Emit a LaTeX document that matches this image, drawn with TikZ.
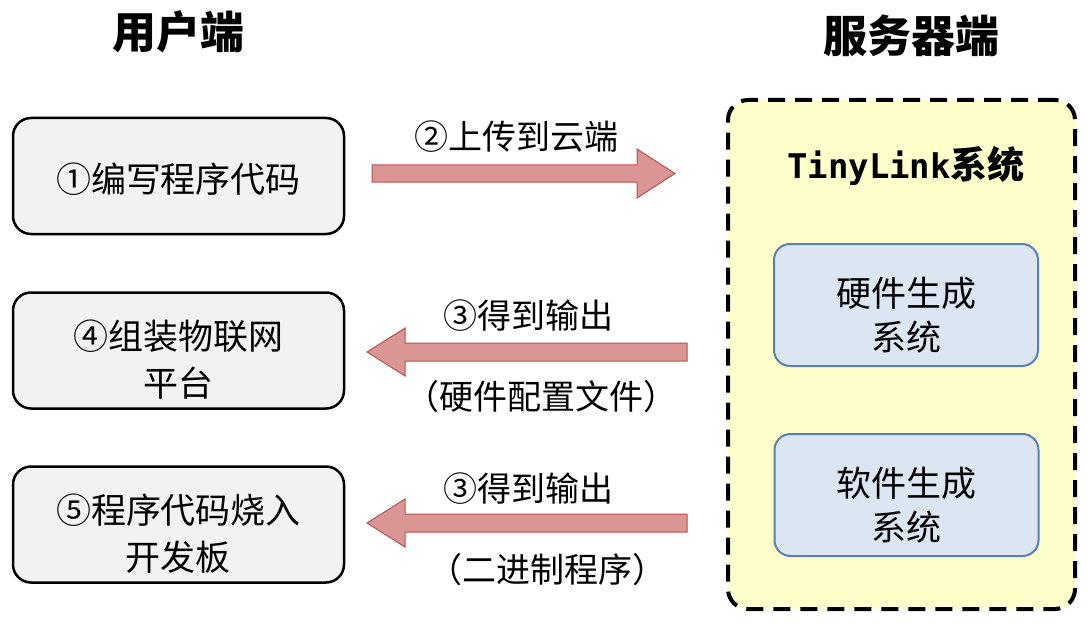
\documentclass[tikz,border=0pt]{standalone}
\usepackage{fontspec}
\setmainfont{Noto Sans CJK SC}
\newfontfamily\monof{DejaVu Sans Mono}
\definecolor{boxgray}{HTML}{F2F2F2}
\definecolor{arrowfill}{HTML}{D99694}
\definecolor{arrowline}{HTML}{B9504D}
\definecolor{srvfill}{HTML}{FFFFCC}
\definecolor{subfill}{HTML}{DCE6F2}
\definecolor{subline}{HTML}{5B7FB0}
\begin{document}
\begin{tikzpicture}[x=1pt,y=-1pt,
  title/.style={font=\fontsize{44}{50}\selectfont\bfseries},
  userbox/.style={draw=black, line width=2.5pt, fill=boxgray, rounded corners=18pt,
    minimum width=331pt, minimum height=116pt},
  usertxt/.style={align=center, inner sep=0pt, font=\fontsize{35}{47}\selectfont},
  srvbox/.style={draw=black, line width=4pt, dash pattern=on 17pt off 10pt,
    fill=srvfill, rounded corners=20pt, minimum width=347pt, minimum height=509pt},
  subbox/.style={draw=subline, line width=2pt, fill=subfill, rounded corners=16pt,
    minimum width=264pt, minimum height=122pt},
  subtxt/.style={align=center, inner sep=0pt, font=\fontsize{35}{44}\selectfont},
  lbl/.style={font=\fontsize{34}{40}\selectfont, inner sep=0pt},
  blockarrow/.style={draw=arrowline, line width=1pt, fill=arrowfill, line join=miter}
]
\useasboundingbox (0,0) rectangle (1087,623);

% titles
\node[title] (t1) at (178,32) {用户端};
\node[title] (t2) at (911,36) {服务器端};

% user side boxes
\node[userbox] (u1) at (178.5,176) {};
\node[userbox] (u2) at (178.5,350.5) {};
\node[userbox] (u3) at (178.5,524.5) {};
\node[usertxt] (u1t) at ([yshift=-3pt]u1.center) {①编写程序代码};
\node[usertxt] (u2t) at ([yshift=-9pt]u2.center) {④组装物联网\\平台};
\node[usertxt] (u3t) at ([yshift=-9pt]u3.center) {⑤程序代码烧入\\开发板};

% server side
\node[srvbox] (srv) at (901.5,354.5) {};
\node[inner sep=0pt, font=\fontsize{37}{44}\selectfont\bfseries] (tl) at (906,166)
  {{\monof\fontsize{34}{44}\selectfont\bfseries TinyLink}系统};
\node[subbox] (hw) at (906,305) {};
\node[subbox] (sw) at (906.5,495) {};
\node[subtxt] (hwt) at ([yshift=-10pt]hw.center) {硬件生成\\系统};
\node[subtxt] (swt) at ([yshift=-10pt]sw.center) {软件生成\\系统};

% block arrows
\draw[blockarrow] (372,165) -- (637,165) -- (637,149) -- (675,173.5)
  -- (637,198) -- (637,182) -- (372,182) -- cycle;
\draw[blockarrow] (687,343) -- (405,343) -- (405,328) -- (367,352)
  -- (405,376) -- (405,361) -- (687,361) -- cycle;
\draw[blockarrow] (687,514) -- (405,514) -- (405,499) -- (367,523)
  -- (405,547) -- (405,532) -- (687,532) -- cycle;

% arrow labels
\node[lbl] (a1) at (516,137) {②上传到云端};
\node[lbl] (a2) at (528,316) {③得到输出};
\node[lbl] (a2b) at (541,397) {（硬件配置文件）};
\node[lbl] (a3) at (528,489) {③得到输出};
\node[lbl] (a3b) at (547,570) {（二进制程序）};
\end{tikzpicture}
\end{document}
